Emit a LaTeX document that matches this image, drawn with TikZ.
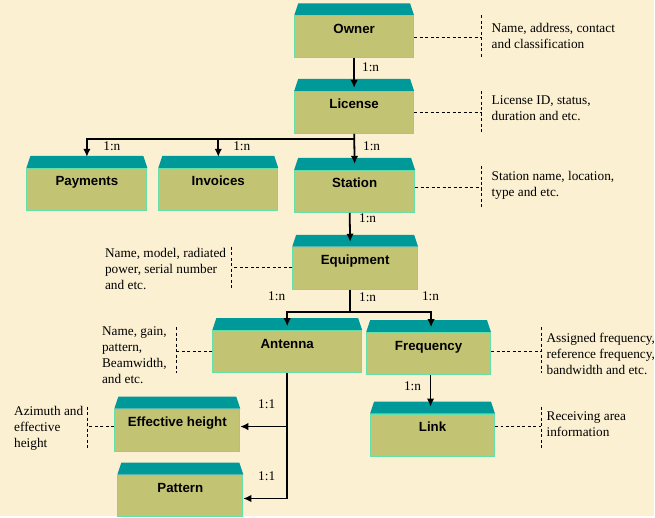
\documentclass[tikz,border=0pt]{standalone}
\usepackage{fontspec}
\setmainfont{Liberation Serif}
\setsansfont{Liberation Sans}
\usetikzlibrary{arrows.meta}
\definecolor{paper}{HTML}{FCF0D2}
\definecolor{capteal}{HTML}{009999}
\definecolor{boxolive}{HTML}{C3C374}
\definecolor{boxedge}{HTML}{66E0A8}
\tikzset{
	node_box/.style = {
		rectangle,
		draw=boxedge,
		line width=1pt,
		fill=boxolive,
		font=\sffamily\bfseries\fontsize{13.3}{16}\selectfont,
		minimum width=#1,
		inner ysep=0pt,
		text height=17.5pt,
		text depth=24.5pt,
		append after command={
			\pgfextra{
				\fill [capteal] (\tikzlastnode.north west)
					-- ([xshift=4pt,yshift=12pt]\tikzlastnode.north west)
					-- ([xshift=-4pt,yshift=12pt]\tikzlastnode.north east)
					-- (\tikzlastnode.north east) -- cycle;
			}
		}
	},
	node_box/.default = 119pt,
	node_card/.style = {
		inner sep=0pt,
		font=\fontsize{13.3}{16}\selectfont
	},
	node_note/.style = {
		anchor=west,
		align=left,
		inner sep=0pt,
		font=\fontsize{13.3}{16}\selectfont
	},
	rel/.style = {
		->,
		line width=1.8pt
	},
	note_line/.style = {
		line width=0.7pt,
		dash pattern=on 3pt off 2.5pt
	},
}
\begin{document}
\begin{tikzpicture}[x=1pt, y=-1pt, >={Latex[length=8pt,width=7.5pt]}]
\fill [paper] (0,0) rectangle (655,517);
% entities
\node [node_box] (owner) at (354.5,37) {Owner};
\node [node_box] (license) at (354.5,112.5) {License};
\node [node_box=120pt] (payments) at (87,189.5) {Payments};
\node [node_box] (invoices) at (218.5,189.5) {Invoices};
\node [node_box=120pt] (station) at (355,191.5) {Station};
\node [node_box=125pt] (equipment) at (355.5,268.5) {Equipment};
\node [node_box=149pt] (antenna) at (287.5,352) {Antenna};
\node [node_box=124pt] (frequency) at (429,354) {Frequency};
\node [node_box=125pt] (effheight) at (177.5,430.5) {Effective height};
\node [node_box=125pt] (pattern) at (180.5,496.5) {Pattern};
\node [node_box=124pt] (link) at (433,435.5) {Link};
% relations
\coordinate (licsplit) at ([yshift=-5pt]license.south);
\coordinate (eqsplit) at ([xshift=-5pt,yshift=-22pt]equipment.south);
\draw [rel] (owner.south) -- ([yshift=3pt]license.north);
\draw [rel] (license.south) -- ([yshift=6pt]station.north);
\draw [rel] (licsplit) -| ([yshift=11pt]payments.north);
\draw [rel] (licsplit) -| ([yshift=11pt]invoices.north);
\draw [rel] ([xshift=-5pt]station.south) -- ([xshift=-5pt,yshift=5pt]equipment.north);
\draw [line width=1.8pt] ([xshift=-5pt]equipment.south) -- (eqsplit);
\draw [rel] (eqsplit) -| ([yshift=4pt]antenna.north);
\draw [rel] (eqsplit) -| ([xshift=2.5pt,yshift=5pt]frequency.north);
\draw [rel] ([xshift=2pt]frequency.south) -- ([xshift=-2pt,yshift=7pt]link.north);
\draw [rel] (antenna.south) |- ([yshift=-2.5pt]pattern.east);
\draw [rel] ([yshift=3.5pt]effheight.east -| antenna.south) -- ([yshift=3.5pt]effheight.east);
% cardinalities
\node [node_card] (c_license) at (371,67) {1:n};
\node [node_card] (c_payments) at (112,146) {1:n};
\node [node_card] (c_invoices) at (242,146) {1:n};
\node [node_card] (c_station) at (372,146) {1:n};
\node [node_card] (c_equipment) at (368,218) {1:n};
\node [node_card] (c_eqleft) at (277,297) {1:n};
\node [node_card] (c_eqmid) at (368,298) {1:n};
\node [node_card] (c_eqright) at (431,297) {1:n};
\node [node_card] (c_link) at (413,387) {1:n};
\node [node_card] (c_effheight) at (267,405) {1:1};
\node [node_card] (c_pattern) at (267,477) {1:1};
% attribute notes
\node [node_note] (n_owner) at (492,36) {Name, address, contact\\and classification};
\node [node_note] (n_license) at (492,108) {License ID, status,\\duration and etc.};
\node [node_note] (n_station) at (492,186) {Station name, location,\\type and etc.};
\node [node_note] (n_equipment) at (105,269.5) {Name, model, radiated\\power, serial number\\and etc.};
\node [node_note] (n_antenna) at (102,356) {Name, gain,\\pattern,\\Beamwidth,\\and etc.};
\node [node_note] (n_effheight) at (14,429) {Azimuth and\\effective\\height};
\node [node_note] (n_frequency) at (547,354) {Assigned frequency,\\reference frequency,\\bandwidth and etc.};
\node [node_note] (n_link) at (547,424.5) {Receiving area\\information};
\coordinate (b_owner) at (482,37);
\coordinate (b_license) at (482,112);
\coordinate (b_station) at (482,188);
\coordinate (b_equipment) at (232,268);
\coordinate (b_antenna) at (177,352);
\coordinate (b_effheight) at (87,427);
\coordinate (b_frequency) at (542,352);
\coordinate (b_link) at (542,427);
\draw [note_line] (b_owner -| owner.east) -- (b_owner);
\draw [note_line] (b_owner |- owner.north) -- (b_owner |- owner.south);
\draw [note_line] (b_license -| license.east) -- (b_license);
\draw [note_line] (b_license |- license.north) -- (b_license |- license.south);
\draw [note_line] (b_station -| station.east) -- (b_station);
\draw [note_line] ([yshift=4pt]b_station |- station.north) -- ([yshift=4pt]b_station |- station.south);
\draw [note_line] (b_equipment -| equipment.west) -- (b_equipment);
\draw [note_line] (b_equipment |- equipment.north) -- (b_equipment |- equipment.south);
\draw [note_line] (b_antenna -| antenna.west) -- (b_antenna);
\draw [note_line] ([yshift=3pt]b_antenna |- antenna.north) -- (b_antenna |- antenna.south);
\draw [note_line] (b_effheight -| effheight.west) -- (b_effheight);
\draw [note_line] ([yshift=2pt]b_effheight |- effheight.north) -- ([yshift=2pt]b_effheight |- effheight.south);
\draw [note_line] (b_frequency -| frequency.east) -- (b_frequency);
\draw [note_line] ([yshift=5pt]b_frequency |- frequency.north) -- ([yshift=2pt]b_frequency |- frequency.south);
\draw [note_line] (b_link -| link.east) -- (b_link);
\draw [note_line] ([yshift=7pt]b_link |- link.north) -- ([yshift=7pt]b_link |- link.south);
\end{tikzpicture}
\end{document}
